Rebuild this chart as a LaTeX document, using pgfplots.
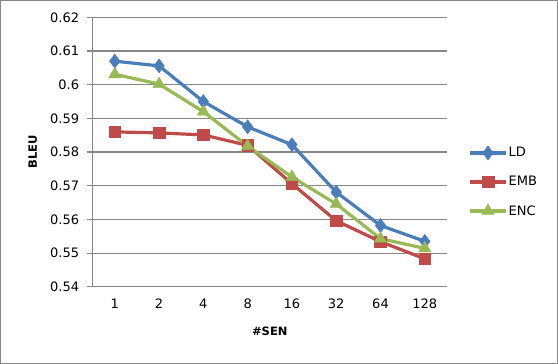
\documentclass[border=0pt]{standalone}
\usepackage{pgfplots}
\pgfplotsset{compat=1.18}
\usepackage{fontspec}
\setmainfont{DejaVu Sans}
\definecolor{cLD}{HTML}{4A7EBB}
\definecolor{cEMB}{HTML}{BE4B48}
\definecolor{cENC}{HTML}{98B954}
\definecolor{gridgray}{HTML}{868686}
\begin{document}
\begin{tikzpicture}
\begin{axis}[
  at={(0pt,0pt)}, anchor=south west,
  scale only axis, width=354.3pt, height=269.4pt,
  xmin=0.5, xmax=8.5, ymin=0.54, ymax=0.62,
  axis lines*=left,
  axis line style={-, gridgray, line width=1.2pt},
  xtick={1,2,3,4,5,6,7,8},
  xticklabels={1,2,4,8,16,32,64,128},
  major x tick style={draw=none},
  extra x ticks={0.5,1.5,2.5,3.5,4.5,5.5,6.5,7.5,8.5},
  extra x tick labels={},
  extra x tick style={major tick length=5pt, tick style={gridgray, line width=1.2pt}},
  ytick={0.54,0.55,0.56,0.57,0.58,0.59,0.6,0.61,0.62},
  ymajorgrids,
  grid style={gridgray, line width=1.2pt},
  major tick length=6pt,
  tick align=outside,
  ytick style={gridgray, line width=1.2pt},
  yticklabel style={/pgf/number format/fixed, /pgf/number format/precision=2},
  /pgf/number format/assume math mode=true,
  tick label style={font=\fontsize{13}{15}\selectfont, black},
  xticklabel style={yshift=-3pt},
  yticklabel style={xshift=-4pt},
  xlabel={\bfseries\#SEN},
  ylabel={\bfseries BLEU},
  label style={font=\fontsize{11.5}{14}\selectfont},
  xlabel style={at={(0.5,0)}, anchor=center, yshift=-45pt},
  ylabel style={at={(0,0.5)}, anchor=center, yshift=60pt},
  legend style={draw=none, fill=none, at={(1.06,0.39)}, anchor=west,
    font=\fontsize{13}{15}\selectfont, row sep=15.5pt, inner sep=0pt,
    nodes={inner sep=1pt}},
  legend cell align=left,
  legend image code/.code={\draw[#1, mark repeat=2, mark phase=2] plot coordinates {(0pt,0pt) (18pt,0pt) (36pt,0pt)};},
]
\addplot[cLD, line width=3.2pt, mark=diamond*, mark size=7pt, mark options={solid, line width=0.5pt}]
 coordinates {(1,0.607) (2,0.6056) (3,0.595) (4,0.5875) (5,0.5822) (6,0.5681) (7,0.5582) (8,0.5535)};
\addlegendentry{LD}
\addplot[cEMB, line width=3.2pt, mark=square*, mark size=5.8pt, mark options={solid, line width=0.5pt}]
 coordinates {(1,0.586) (2,0.5857) (3,0.5851) (4,0.582) (5,0.5706) (6,0.5596) (7,0.5534) (8,0.5483)};
\addlegendentry{EMB}
\addplot[cENC, line width=3.2pt, mark=triangle*, mark size=7pt, mark options={solid, line width=0.5pt}]
 coordinates {(1,0.6031) (2,0.6002) (3,0.592) (4,0.5818) (5,0.5726) (6,0.5646) (7,0.5543) (8,0.5514)};
\addlegendentry{ENC}
\end{axis}
\draw[gridgray, line width=1.3pt] (-92pt,-76.55pt) rectangle (464.7pt,286.15pt);
\end{tikzpicture}
\end{document}
